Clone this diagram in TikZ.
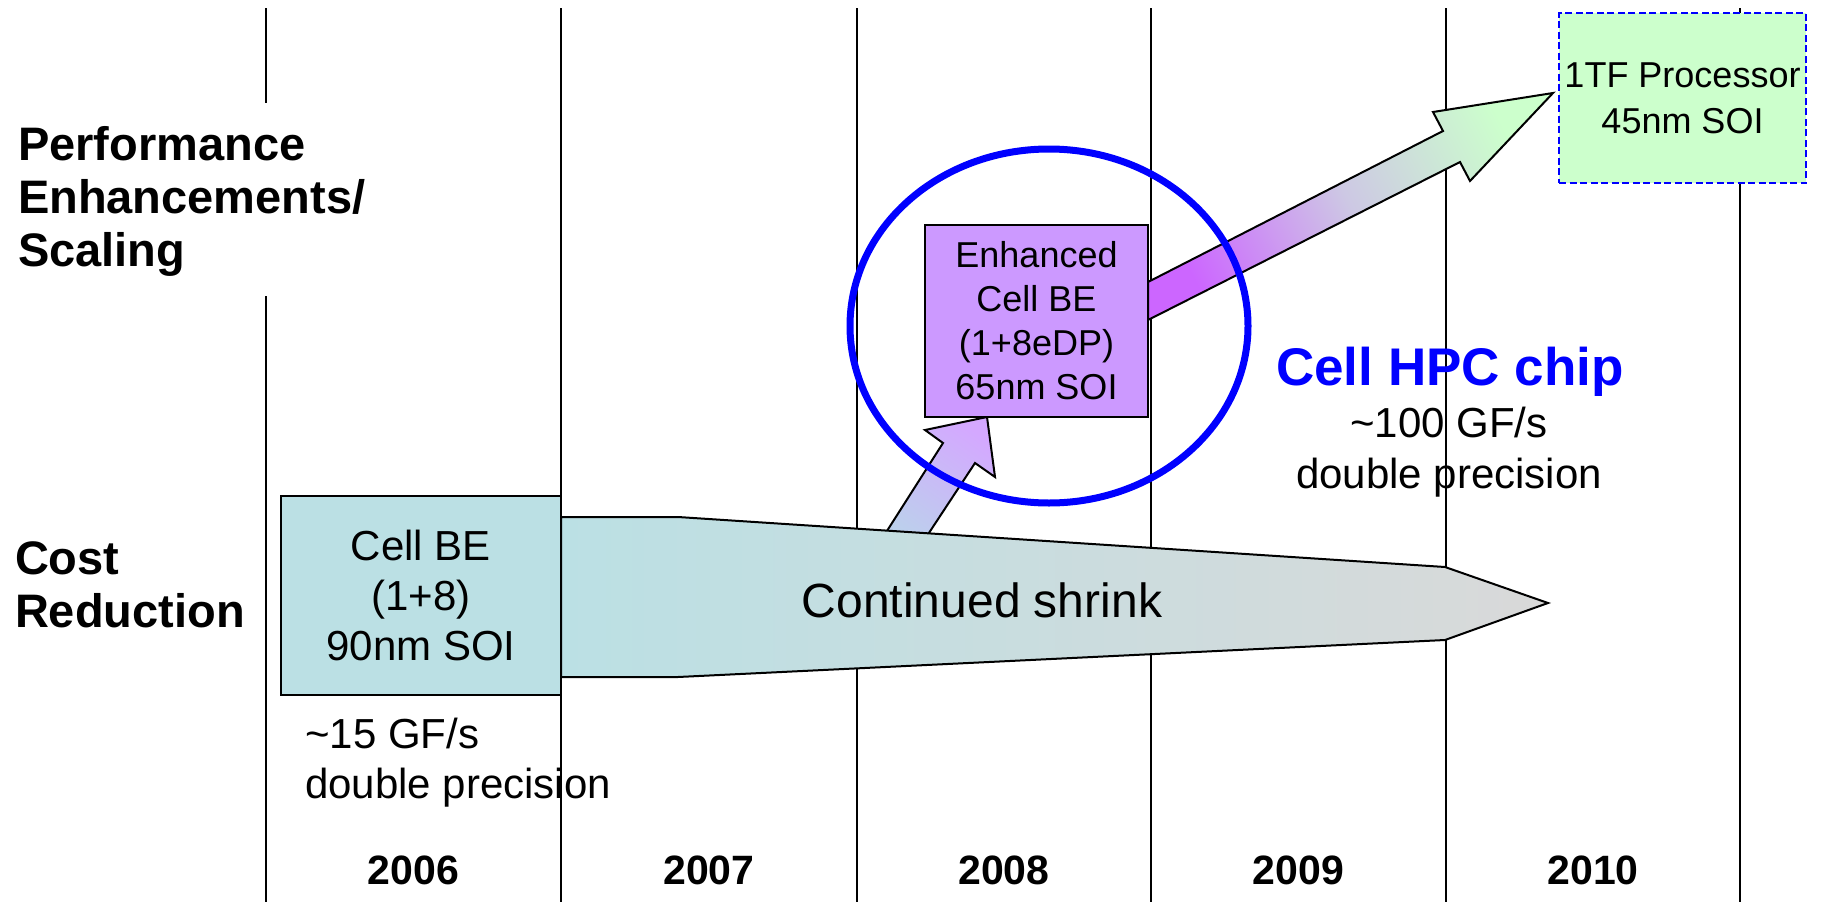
\documentclass[tikz,border=0pt]{standalone}
\usepackage{fontspec}
\setmainfont{Liberation Sans}
\usepackage{xcolor}
\usetikzlibrary{positioning}
\usetikzlibrary{calc}
\definecolor{cellblue}{RGB}{187,224,228}
\definecolor{shrinkgrey}{RGB}{217,217,217}
\definecolor{edpviolet}{RGB}{204,153,255}
\definecolor{hotviolet}{RGB}{204,102,255}
\definecolor{midlilac}{RGB}{205,200,228}
\definecolor{tfgreen}{RGB}{204,255,204}
\definecolor{paleblue}{RGB}{188,208,236}
\tikzset{
    grid line/.style = {line width=2.5pt},
    chip box/.style = {draw, line width=2pt, align=center, inner sep=0pt},
    block arrow/.style = {draw, line width=2pt, line join=miter},
    row label/.style = {anchor=north west, align=left, inner sep=0pt, outer sep=0pt,
        font=\fontsize{47}{53}\selectfont\bfseries},
    year label/.style = {anchor=base, inner sep=0pt, font=\fontsize{41}{49}\selectfont\bfseries},
    note/.style = {anchor=base, inner sep=0pt, font=\fontsize{42}{50}\selectfont}
}

\begin{document}
\begin{tikzpicture}[x=1pt,y=-1pt]
    \useasboundingbox (0,0) rectangle (1823,902);
    % year columns
    \foreach \gx in {561,857,1151,1446,1740}
        \draw[grid line] (\gx,8) -- (\gx,902);
    \draw[grid line] (266,8) -- (266,103) (266,296) -- (266,902);

    % shrink path and the step up to the eDP part
    \shadedraw[block arrow, bottom color=paleblue, top color=edpviolet!85, shading angle=-35]
        (878,545) -- (943,443) -- (925,430) -- (987,417) -- (995,477) -- (975,463) -- (921,545) -- cycle;
    \shadedraw[block arrow, left color=cellblue, right color=shrinkgrey]
        (561,517) -- (678,517) -- (1445,567) -- (1548,603) -- (1445,640) -- (678,677) -- (561,677) -- cycle;
    \node[anchor=base, inner sep=0pt, font=\fontsize{48}{58}\selectfont] (shrink) at (982,617) {Continued shrink};

    \node[chip box, fill=cellblue, minimum width=280pt, minimum height=199pt,
        font=\fontsize{42}{50}\selectfont] (cellbe) at (421,595.5) {Cell BE\\(1+8)\\90nm SOI};
    \node[chip box, fill=edpviolet, minimum width=223pt, minimum height=192pt,
        font=\fontsize{36}{44}\selectfont] (edp) at (1036.5,321) {Enhanced\\Cell BE\\(1+8eDP)\\65nm SOI};

    % scaling arrow to the 1TF part
    \shadedraw[block arrow, bottom color=hotviolet, top color=tfgreen, middle color=midlilac, shading angle=-63]
        (1148,282) -- (1443,131) -- (1433,112) -- (1553,93) -- (1470,181) -- (1460,162) -- (1148,320) -- cycle;
    \node[chip box, draw=blue, line width=1.5pt, dash pattern=on 7pt off 3.5pt, fill=tfgreen,
        minimum width=247pt, minimum height=170pt, font=\fontsize{36}{46}\selectfont]
        (tf) at (1682.5,98) {1TF Processor\\45nm SOI};

    \draw[blue, line width=7pt] (1049,326) ellipse [x radius=199, y radius=177];

    % labels
    \node[row label] (perf) at (18,126) {Performance\\Enhancements/\\Scaling};
    \node[row label] (cost) at (15,542) {Cost\\Reduction};
    \node[note, anchor=base west] (gf15) at (305,748) {\textasciitilde15 GF/s};
    \node[note, anchor=base west] (prec15) at (305,798) {double precision};
    \node[anchor=base, inner sep=0pt, text=blue, font=\fontsize{53}{64}\selectfont\bfseries]
        (hpc) at (1450,385) {Cell HPC chip};
    \node[note] (gf100) at (1449,437) {\textasciitilde100 GF/s};
    \node[note] (prec100) at (1449,488) {double precision};

    \foreach \yr/\cx in {2006/413.5,2007/709,2008/1004,2009/1298.5,2010/1593}
        \node[year label] (y\yr) at (\cx,884) {\yr};
\end{tikzpicture}
\end{document}
